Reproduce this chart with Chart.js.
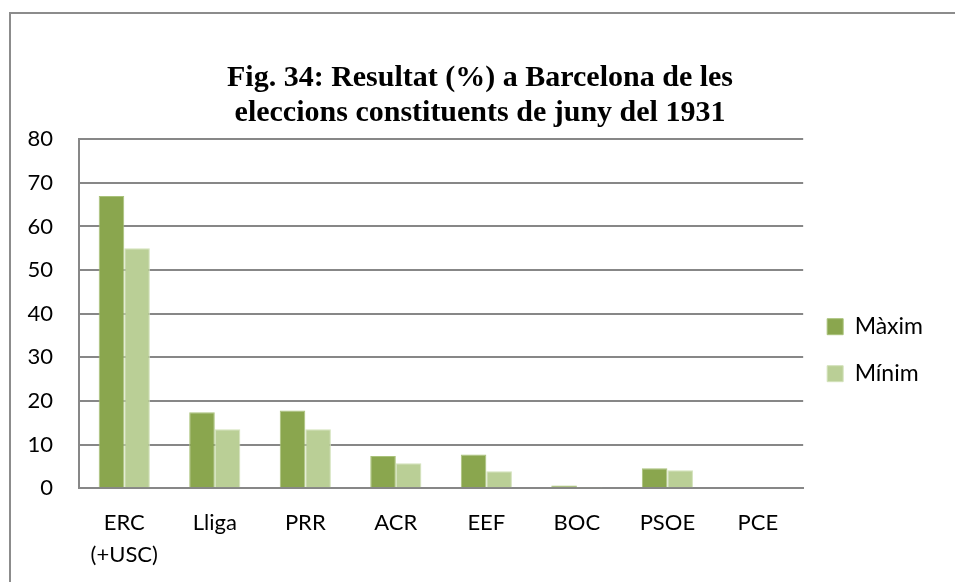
<!DOCTYPE html>
<html>
<head>
<meta charset="utf-8">
<script src="https://cdn.jsdelivr.net/npm/chart.js@4.4.1/dist/chart.umd.min.js"></script>
<style>
  html, body { margin: 0; padding: 0; background: #ffffff; }
  #wrap { position: relative; width: 955px; height: 582px; overflow: hidden; }
  #frame { position: absolute; left: 9px; top: 12px; width: 980px; height: 600px; border: 2px solid #8c8c8c; box-sizing: border-box; }
  canvas { position: absolute; left: 0; top: 0; }
</style>
</head>
<body>
<div id="wrap">
  <div id="frame"></div>
  <canvas id="chart" width="955" height="590"></canvas>
</div>
<script>
// categories (parties)
const parties = [["ERC", "(+USC)"], "Lliga", "PRR", "ACR", "EEF", "BOC", "PSOE", "PCE"];
// results in %
const maxim = [67.0, 17.4, 17.8, 7.4, 7.7, 0.6, 4.6, 0];
const minim = [55.0, 13.5, 13.5, 5.7, 3.9, 0.3, 4.1, 0];
const yTicks = [0, 10, 20, 30, 40, 50, 60, 70, 80];

const labelFont = { family: "Lato", size: 22 };

let myChart = new Chart(document.getElementById("chart"), {
  type: "bar",
  data: {
    labels: parties,
    datasets: [
      { label: "Màxim", data: maxim, backgroundColor: "#8aa64e", borderColor: "#a9c27a", borderWidth: 1 },
      { label: "Mínim", data: minim, backgroundColor: "#bacf96", borderColor: "#d3e2bb", borderWidth: 1 }
    ]
  },
  options: {
    responsive: false,
    animation: false,
    layout: { padding: { left: 27, right: 22, top: 14, bottom: 0 } },
    datasets: { bar: { categoryPercentage: 0.565, barPercentage: 1.0 } },
    plugins: {
      //legend on the right, pushed down with an empty title
      legend: {
        position: "right",
        align: "center",
        title: { display: true, text: "", padding: { top: 0, bottom: 82 } },
        labels: { boxWidth: 16, boxHeight: 16, padding: 24, color: "#000000", font: { family: "Lato", size: 23 } }
      },
      tooltip: { enabled: false },
      title: {
        display: true,
        text: ["Fig. 34: Resultat (%) a Barcelona de les", "eleccions constituents de juny del 1931"],
        color: "#000000",
        font: { family: "Liberation Serif", size: 30, weight: "bold", lineHeight: 1.17 },
        padding: { top: 47, bottom: 8 }
      }
    },
    scales: {
      x: {
        grid: { display: false, drawTicks: false },
        border: { display: true, color: "#878787", width: 2 },
        ticks: { color: "#000000", font: { ...labelFont, lineHeight: 1.45 }, padding: 19, maxRotation: 0 }
      },
      y: {
        min: 0,
        max: 80,
        afterFit: (scale) => { scale.width = 52; },
        afterBuildTicks: (scale) => { scale.ticks = yTicks.map((v) => ({ value: v })); },
        grid: { color: "#878787", lineWidth: 2, drawTicks: false },
        border: { display: true, color: "#878787", width: 2 },
        ticks: { color: "#000000", font: labelFont, padding: 26 }
      }
    }
  }
});
</script>
</body>
</html>
